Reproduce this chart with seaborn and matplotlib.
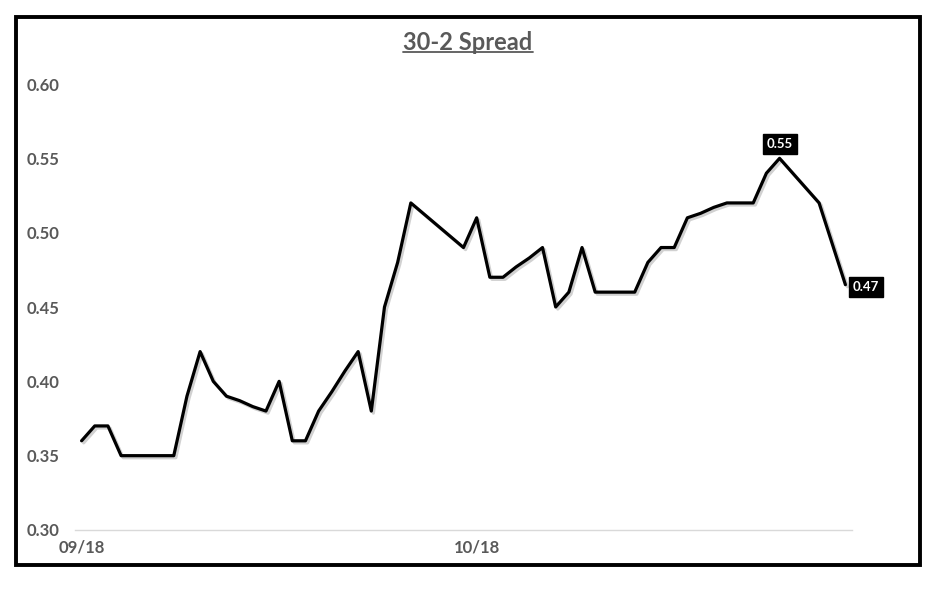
import pandas as pd
import numpy as np
import matplotlib
matplotlib.use('Agg')
import matplotlib.pyplot as plt
import matplotlib.dates as mdates
import matplotlib.patheffects as pe
from matplotlib.lines import Line2D
from matplotlib.patches import Rectangle
import seaborn as sns

# Daily 30-2 spread readings
spread = [0.36, 0.37, 0.37, 0.35, 0.35, 0.35, 0.35, 0.35, 0.39, 0.42,
          0.40, 0.39, 0.387, 0.383, 0.38, 0.40, 0.36, 0.36, 0.38, 0.393,
          0.407, 0.42, 0.38, 0.45, 0.48, 0.52, 0.5125, 0.505, 0.4975, 0.49,
          0.51, 0.47, 0.47, 0.477, 0.483, 0.49, 0.45, 0.46, 0.49, 0.46,
          0.46, 0.46, 0.46, 0.48, 0.49, 0.49, 0.51, 0.513, 0.517, 0.52,
          0.52, 0.52, 0.54, 0.55, 0.54, 0.53, 0.52, 0.4925, 0.465]
start_date = '2018-09-18'
tick_dates = ['2018-09-18', '2018-10-18']
label_points = [53, 58]  # peak and last value get a label

dates = pd.date_range(start_date, periods=len(spread), freq='D')
df = pd.DataFrame({'Date': dates, 'Spread': spread})

sns.set_style('white')
plt.rcParams['font.family'] = ['Lato', 'DejaVu Sans']
grey = '#595959'

fig = plt.figure(figsize=(9.41, 5.96), dpi=100)
ax = fig.add_axes([75 / 941, 1 - 530 / 596, 777 / 941, 446 / 596])

sns.lineplot(data=df, x='Date', y='Spread', ax=ax, color='black', linewidth=2.3,
             path_effects=[pe.SimpleLineShadow(offset=(1.5, -1.5), alpha=0.18, shadow_color='black'),
                           pe.Normal()])

# axis ranges: half a day of padding each side, like a category axis
ax.set_xlim(dates[0] - pd.Timedelta(hours=12), dates[-1] + pd.Timedelta(hours=12))
ax.set_ylim(0.30, 0.60)
ax.set_yticks(np.arange(0.30, 0.601, 0.05))
ax.yaxis.set_major_formatter(matplotlib.ticker.FormatStrFormatter('%.2f'))

ax.set_xticks(pd.to_datetime(tick_dates))
ax.xaxis.set_major_formatter(mdates.DateFormatter('%m/%d'))
ax.set_xticks([mdates.date2num(pd.Timestamp(tick_dates[1])) - 0.5], minor=True)
ax.tick_params(axis='x', which='major', length=0, pad=7)
ax.tick_params(axis='x', which='minor', length=5, color='#d9d9d9', width=1, direction='out')
ax.tick_params(axis='y', length=0, pad=11)
for lbl in ax.get_xticklabels() + ax.get_yticklabels():
    lbl.set_fontweight('bold')
    lbl.set_color(grey)
    lbl.set_fontsize(12)

sns.despine(ax=ax, left=True)
ax.spines['bottom'].set_color('#d9d9d9')
ax.spines['bottom'].set_linewidth(1)
ax.set_xlabel('')
ax.set_ylabel('')

# data labels
box = dict(boxstyle='square,pad=0.3', fc='black', ec='black')
ax.annotate(f'{spread[label_points[0]]:.2f}', (dates[label_points[0]], spread[label_points[0]]),
            xytext=(0, 10), textcoords='offset points', ha='center', va='center',
            color='white', fontsize=9.5, fontweight='bold', bbox=box)
ax.annotate(f'{spread[label_points[1]]:.2f}', (dates[label_points[1]], spread[label_points[1]]),
            xytext=(15, -1.5), textcoords='offset points', ha='center', va='center',
            color='white', fontsize=9.5, fontweight='bold', bbox=box)

# title with underline
title = fig.text(468 / 941, 1 - 42 / 596, '30-2 Spread', ha='center', va='center',
                 fontsize=17, fontweight='bold', color=grey)
fig.canvas.draw()
bb = title.get_window_extent().transformed(fig.transFigure.inverted())
fig.add_artist(Line2D([bb.x0, bb.x1], [bb.y0 + 0.002, bb.y0 + 0.002],
                      transform=fig.transFigure, color=grey, linewidth=1.3))

# outer chart border
fig.add_artist(Rectangle((16 / 941, 1 - 565 / 596), 904 / 941, 548 / 596,
                         transform=fig.transFigure, fill=False, edgecolor='black', linewidth=2.8))

fig.savefig('out.png', dpi=100)
